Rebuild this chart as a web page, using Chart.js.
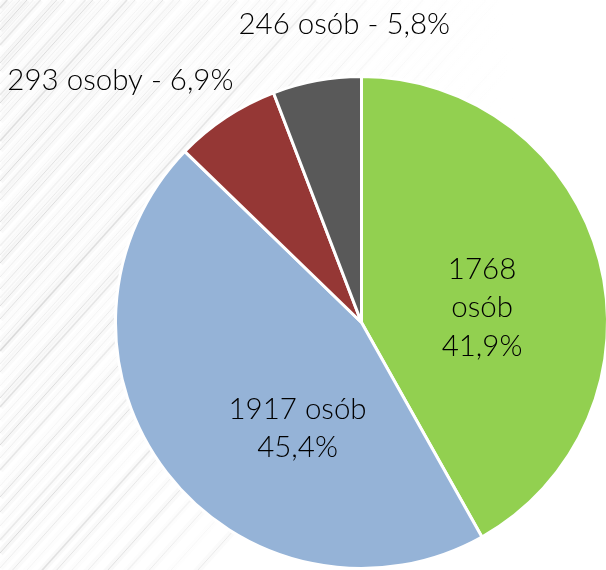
<!DOCTYPE html>
<html>
<head>
<meta charset="utf-8">
<script src="https://cdn.jsdelivr.net/npm/chart.js@4.4.1/dist/chart.umd.min.js"></script>
<style>
  html, body { margin: 0; padding: 0; background: #fff; overflow: hidden; }
  #wrap { position: relative; width: 606px; height: 570px; overflow: hidden; }
  canvas { position: absolute; left: 0; top: 0; }
</style>
</head>
<body>
<div id="wrap"><canvas id="pie-chart" width="620" height="570"></canvas></div>
<script>
// data
var counts   = [1768, 1917, 293, 246];
var nouns    = ['osób', 'osób', 'osoby', 'osób'];
var percents = ['41,9%', '45,4%', '6,9%', '5,8%'];
var colors   = ['#92d050', '#95b3d7', '#953735', '#595959'];

// how each label is broken into lines
var labelLines = [
  [String(counts[0]), nouns[0], percents[0]],
  [counts[1] + ' ' + nouns[1], percents[1]],
  [counts[2] + ' ' + nouns[2] + ' - ' + percents[2]],
  [counts[3] + ' ' + nouns[3] + ' - ' + percents[3]]
];

// label anchor, in units of the pie radius from its centre
var labelPos = [[0.49, -0.06], [-0.26, 0.43], [-0.98, -0.985], [-0.07, -1.21]];

var FONT = '300 29.5px Lato, "Open Sans", sans-serif';

// brushed diagonal streaks of the slide background
var streaks = [8, 14, 22, 30, 37, 45, 58, 63, 71, 84, 95, 103, 112, 121, 133, 141, 150, 162,
               170, 181, 193, 200, 214, 222, 231, 246, 255, 263, 277, 289, 298, 306, 319, 330,
               342, 351, 364, 372, 386, 398, 407, 420, 433, 445, 458, 470, 486, 497, 512, 526,
               540, 553, 568, 584, 600, 617, 633, 650, 668, 690, 712, 736, 760, 790];
var streakAlpha = [0.22, 0.10, 0.16, 0.28, 0.12, 0.18, 0.08, 0.24];

var bgPlugin = {
  id: 'slideBg',
  beforeDraw: function (chart) {
    var ctx = chart.ctx;
    ctx.save();
    ctx.fillStyle = '#ffffff';
    ctx.fillRect(0, 0, chart.width, chart.height);
    for (var i = 0; i < streaks.length; i++) {
      var c = streaks[i];
      var a = streakAlpha[i % streakAlpha.length];
      var g = ctx.createLinearGradient(0, 0, 520, 0);
      g.addColorStop(0, 'rgba(140,140,140,' + a + ')');
      g.addColorStop(0.5, 'rgba(160,160,160,' + (a * 0.7) + ')');
      g.addColorStop(1, 'rgba(200,200,200,0)');
      // soft wide band
      ctx.strokeStyle = g;
      ctx.globalAlpha = 0.25;
      ctx.lineWidth = 7;
      ctx.beginPath();
      ctx.moveTo(0, c);
      ctx.lineTo(c * 0.9, 0);
      ctx.stroke();
      // fine line
      ctx.globalAlpha = 1;
      ctx.lineWidth = (i % 5 === 0) ? 1.6 : 1;
      ctx.beginPath();
      ctx.moveTo(0, c);
      ctx.lineTo(c * 0.9, 0);
      ctx.stroke();
    }
    ctx.restore();
  }
};

var labelPlugin = {
  id: 'sliceLabels',
  afterDatasetsDraw: function (chart) {
    var ctx = chart.ctx;
    var arcs = chart.getDatasetMeta(0).data;
    ctx.save();
    ctx.font = FONT;
    ctx.fillStyle = '#000000';
    ctx.textAlign = 'center';
    ctx.textBaseline = 'middle';
    var lh = 38.5;
    arcs.forEach(function (arc, i) {
      var r = arc.outerRadius;
      var x = arc.x + labelPos[i][0] * r;
      var y = arc.y + labelPos[i][1] * r;
      var lines = labelLines[i];
      var y0 = y - (lines.length - 1) * lh / 2;
      lines.forEach(function (t, j) {
        ctx.fillText(t, x, y0 + j * lh);
      });
    });
    ctx.restore();
  }
};

var pieCanvas = document.getElementById('pie-chart').getContext('2d');
var pieChart = new Chart(pieCanvas, {
  type: 'pie',
  data: {
    labels: labelLines.map(function (l) { return l.join(' '); }),
    datasets: [{
      data: counts,
      backgroundColor: colors,
      hoverBackgroundColor: colors,
      borderColor: '#ffffff',
      borderWidth: 3
    }]
  },
  options: {
    responsive: false,
    animation: false,
    devicePixelRatio: 1,
    layout: { padding: { left: 114, right: 11, top: 75, bottom: 0 } },
    plugins: {
      legend: { display: false },
      tooltip: { enabled: false }
    }
  },
  plugins: [bgPlugin, labelPlugin]
});
</script>
</body>
</html>
